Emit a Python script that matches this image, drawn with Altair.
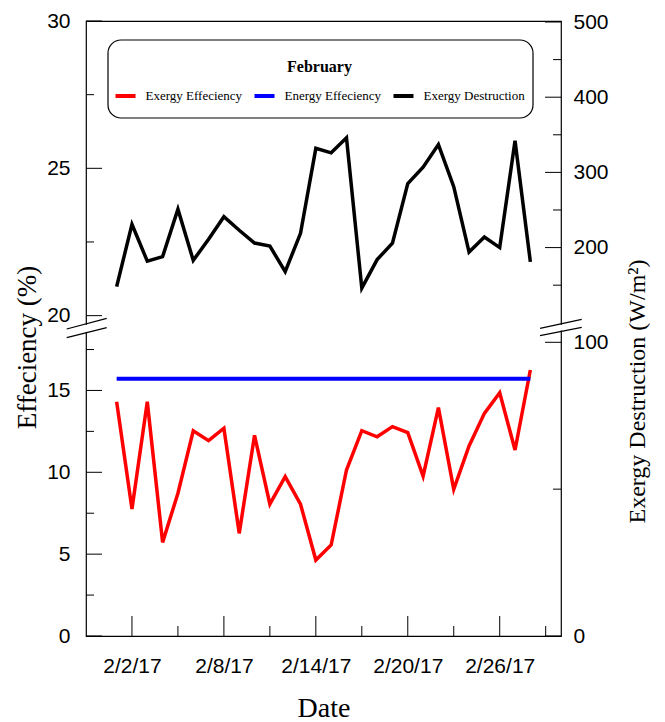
import altair as alt
import pandas as pd

# ---------------- data ----------------
days = [1, 2, 3, 4, 5, 6, 7, 8, 9, 10, 11, 12, 13, 14,
        15, 16, 17, 18, 19, 20, 21, 22, 23, 24, 25, 26, 27, 28]
exergy_eff = [14.31, 7.76, 14.31, 5.72, 8.72, 12.54, 11.93, 12.69, 6.27, 12.26,
              8.05, 9.73, 8.05, 4.64, 5.56, 10.14, 12.54, 12.17, 12.79, 12.42,
              9.77, 13.95, 8.96, 11.61, 13.60, 14.86, 11.36, 16.25]
energy_eff = [15.72, 15.72, 15.72, 15.72, 15.72, 15.72, 15.72, 15.72, 15.72, 15.72,
              15.72, 15.72, 15.72, 15.72, 15.72, 15.72, 15.72, 15.72, 15.72, 15.72,
              15.72, 15.72, 15.72, 15.72, 15.72, 15.72, 15.72, 15.72]
exergy_dest = [148, 231, 182, 188, 251, 183, 211, 241, 223, 206,
               202, 168, 219, 332, 326, 346, 146, 184, 206, 285,
               307, 337, 281, 194, 214, 200, 342, 181]

series_names = ["Exergy Effeciency", "Energy Effeciency", "Exergy Destruction"]
series_colors = ["#ff0000", "#0000ff", "#000000"]

x_major = [2, 8, 14, 20, 26]
x_minor = [5, 11, 17, 23, 29]
left_major = [0, 5, 10, 15, 20, 25, 30]
left_minor = [2.5, 7.5, 12.5, 17.5, 22.5, 27.5]
right_major = [0, 100, 200, 300, 400, 500]
right_minor = [50, 150, 250, 350, 450]

# ---------------- layout ----------------
W, H = 475, 615
SERIF = "Liberation Serif"
SANS = "Liberation Sans"

red_df = pd.DataFrame({"day": days, "eff": exergy_eff, "series": series_names[0]})
blue_df = pd.DataFrame({"day": days, "eff": energy_eff, "series": series_names[1]})
black_df = pd.DataFrame({"day": days, "dest": exergy_dest, "series": series_names[2]})

x_scale = alt.Scale(domain=[-1, 30], nice=False, zero=False)
x_axis = alt.Axis(values=x_major, labelExpr="'2/' + datum.value + '/17'",
                  title="Date", ticks=False, domain=False, grid=False,
                  labelFont=SANS, labelFontSize=21, labelPadding=19,
                  titleFont=SERIF, titleFontSize=28, titleFontWeight="normal",
                  titleBaseline="alphabetic", titleY=80)

ly_scale = alt.Scale(domain=[0, 18.57, 19.73, 30], range=[H, 311, 302.6, 0],
                     nice=False, zero=False)
ly_axis = alt.Axis(orient="left", values=left_major, ticks=False, domain=False,
                   grid=False, labelFont=SANS, labelFontSize=21, labelPadding=16,
                   title="Effeciency (%)", titleFont=SERIF, titleFontSize=27,
                   titleFontWeight="normal", titleAngle=270, titleBaseline="alphabetic",
                   titleX=-51, titleY=326, titleAlign="center")

ry_scale = alt.Scale(domain=[0, 100, 100.5, 500], range=[H, 321.3, 301.4, 1],
                     nice=False, zero=False)
ry_axis = alt.Axis(orient="right", values=right_major, ticks=False, domain=False,
                   grid=False, labelFont=SANS, labelFontSize=21, labelPadding=12,
                   title="Exergy Destruction  (W/m²)", titleFont=SERIF, titleFontSize=24,
                   titleFontWeight="normal", titleAngle=270, titleBaseline="alphabetic",
                   titleX=83, titleY=370, titleAlign="center")

color_scale = alt.Scale(domain=series_names, range=series_colors)
legend = alt.Legend(orient="none", legendX=27.5, legendY=38, direction="horizontal",
                    title="February", titleFont=SERIF, titleFontSize=16,
                    titleFontWeight="bold", titleAnchor="middle", titlePadding=9,
                    labelFont=SERIF, labelFontSize=13, labelColor="black",
                    symbolType="stroke", symbolSize=400, symbolStrokeWidth=4,
                    labelOffset=8, columnPadding=4, padding=0, gridAlign="none")

X = alt.X("day:Q", scale=x_scale, axis=x_axis)
C = alt.Color("series:N", scale=color_scale, legend=legend)

red = alt.Chart(red_df).mark_line(strokeWidth=3.5).encode(
    x=X, y=alt.Y("eff:Q", scale=ly_scale, axis=ly_axis), color=C)
blue = alt.Chart(blue_df).mark_line(strokeWidth=4).encode(
    x=X, y=alt.Y("eff:Q", scale=ly_scale, axis=ly_axis), color=C)

lt_major = alt.Chart(pd.DataFrame({"eff": left_major})).mark_rule(color="black").encode(
    x=alt.value(0), x2=alt.value(16), y=alt.Y("eff:Q", scale=ly_scale, axis=ly_axis))
lt_minor = alt.Chart(pd.DataFrame({"eff": left_minor})).mark_rule(color="black").encode(
    x=alt.value(0), x2=alt.value(8), y=alt.Y("eff:Q", scale=ly_scale, axis=ly_axis))
xt_major = alt.Chart(pd.DataFrame({"day": x_major})).mark_rule(color="black").encode(
    x=X, y=alt.value(H), y2=alt.value(H - 20))
xt_minor = alt.Chart(pd.DataFrame({"day": x_minor})).mark_rule(color="black").encode(
    x=X, y=alt.value(H), y2=alt.value(H - 10))

left_group = alt.layer(red, blue, lt_major, lt_minor, xt_major, xt_minor)

black = alt.Chart(black_df).mark_line(strokeWidth=3.5).encode(
    x=X, y=alt.Y("dest:Q", scale=ry_scale, axis=ry_axis), color=C)
rt_major = alt.Chart(pd.DataFrame({"dest": right_major})).mark_rule(color="black").encode(
    x=alt.value(W), x2=alt.value(W - 16), y=alt.Y("dest:Q", scale=ry_scale, axis=ry_axis))
rt_minor = alt.Chart(pd.DataFrame({"dest": right_minor})).mark_rule(color="black").encode(
    x=alt.value(W), x2=alt.value(W - 8), y=alt.Y("dest:Q", scale=ry_scale, axis=ry_axis))

right_group = alt.layer(black, rt_major, rt_minor)

one = pd.DataFrame({"k": [0]})


def seg(x1, y1, x2, y2, color="black", width=1.2):
    return alt.Chart(one).mark_rule(color=color, strokeWidth=width).encode(
        x=alt.value(x1), y=alt.value(y1), x2=alt.value(x2), y2=alt.value(y2))


box = alt.Chart(one).mark_rect(fill="white", fillOpacity=0, stroke="black",
                               strokeWidth=1.2, cornerRadius=13).encode(
    x=alt.value(22), x2=alt.value(447), y=alt.value(19), y2=alt.value(97))

deco = [
    seg(0, 303.8, 0, 310.9, color="white", width=4),
    seg(W, 303.8, W, 309.5, color="white", width=4),
    seg(-19.3, 308, 20.7, 297.3),
    seg(-19.3, 316.7, 20.7, 306.7),
    seg(454, 307.3, 495.7, 298.3),
    seg(454, 314.7, 495.7, 306.3),
    box,
]

chart = alt.layer(left_group, right_group, *deco).resolve_scale(
    y="independent"
).properties(
    width=W, height=H,
    autosize=alt.AutoSizeParams(type="none"),
    padding={"left": 78, "top": 13, "right": 96, "bottom": 86},
).configure_view(
    stroke="black", strokeWidth=1.2
).configure_axis(
    labelColor="black", titleColor="black"
).configure_legend(
    titleColor="black"
)

chart.save("out.html", embed_options={"renderer": "svg", "actions": False})
